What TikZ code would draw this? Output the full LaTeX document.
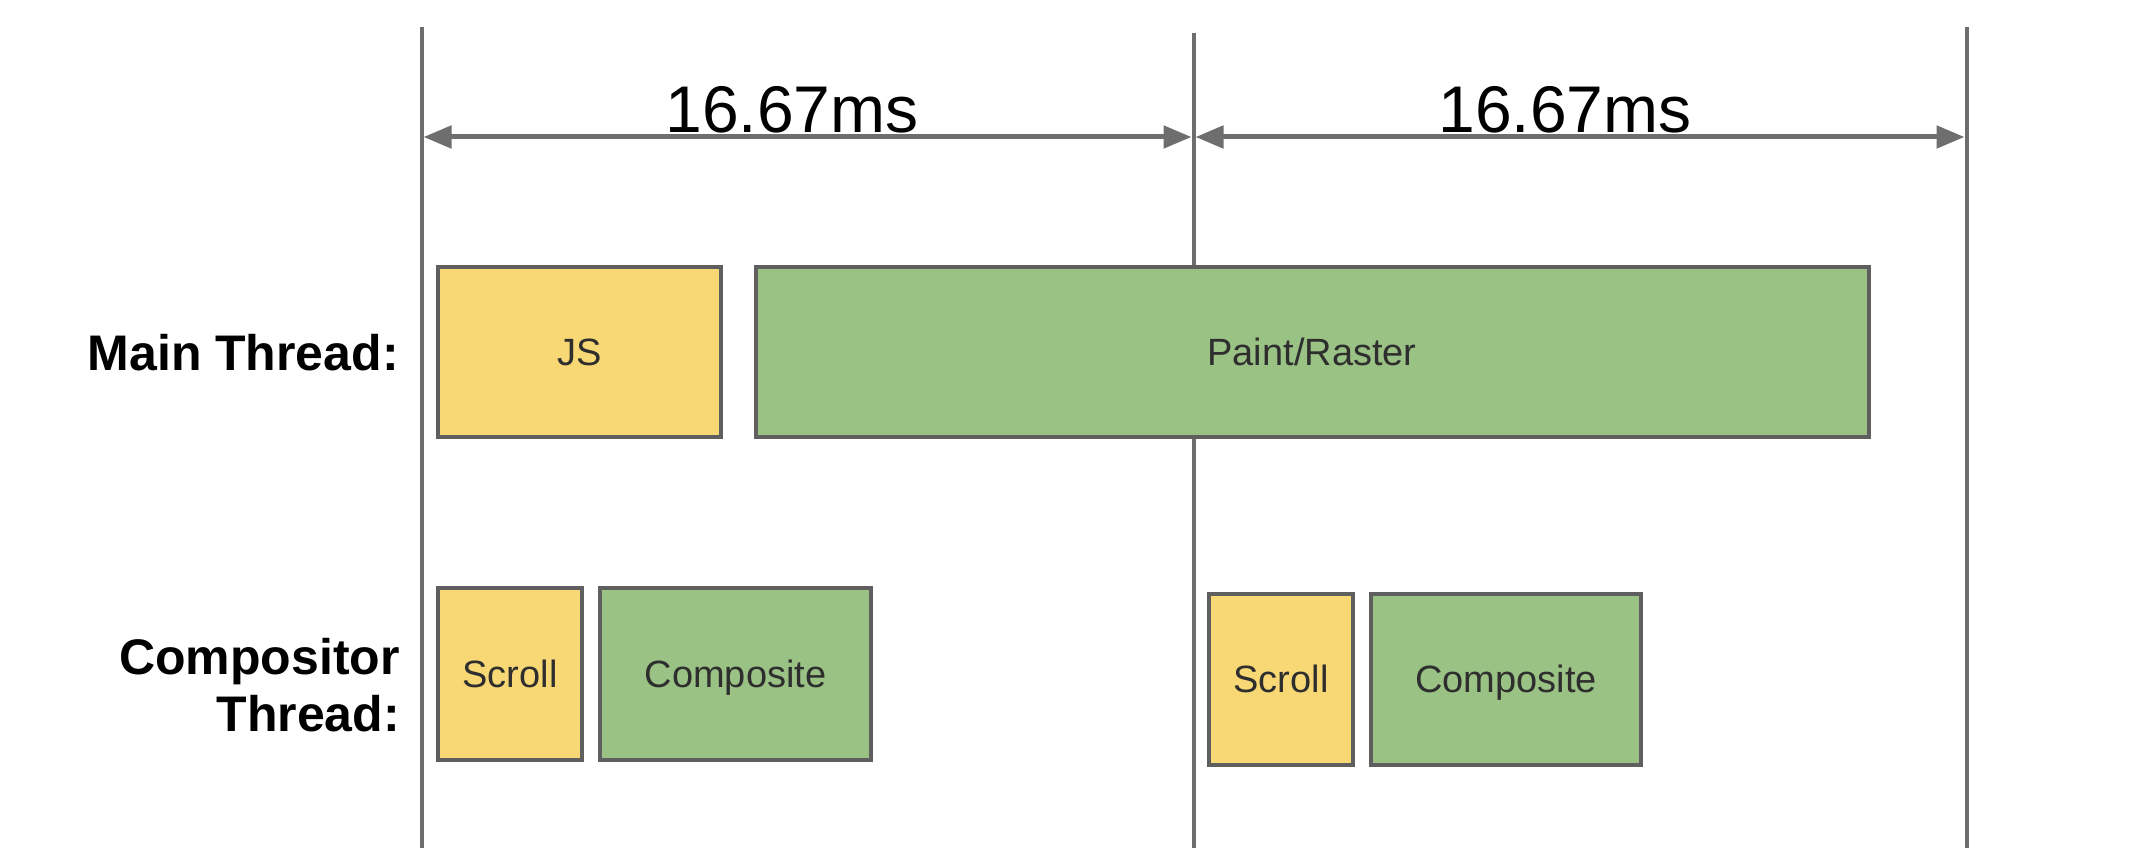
\documentclass[tikz,border=0pt]{standalone}
\usepackage{fontspec}
\setmainfont{Liberation Sans}
\usetikzlibrary{arrows.meta}
\definecolor{ylw}{HTML}{F8D775}
\definecolor{grn}{HTML}{9BC285}
\definecolor{edge}{HTML}{5F5F5F}
\definecolor{rule}{HTML}{6E6E6E}
\definecolor{ink}{HTML}{2E2E2E}
\tikzset{
  taskbox/.style={draw=edge, line width=4pt, inner sep=0pt, text=ink,
    text height=27pt, text depth=0pt,
    font=\fontsize{38}{40}\selectfont},
  ybox/.style={taskbox, fill=ylw},
  gbox/.style={taskbox, fill=grn},
  frameline/.style={draw=rule, line width=4pt},
  span/.style={draw=rule, line width=5pt, {Triangle[length=28pt,width=22pt]}-{Triangle[length=28pt,width=22pt]}},
  spanlabel/.style={anchor=base, inner sep=0pt, font=\fontsize{66}{66}\selectfont},
  rowlabel/.style={inner sep=0pt, align=right, font=\fontsize{50}{57}\selectfont\bfseries}
}
\begin{document}
\begin{tikzpicture}[x=1pt,y=-1pt]
\useasboundingbox (0,0) rectangle (2154,848);
% frame lines
\coordinate (t1) at (421.5,27);
\coordinate (b1) at (421.5,848);
\coordinate (t2) at (1193.5,33);
\coordinate (b2) at (1193.5,848);
\coordinate (t3) at (1966.5,27);
\coordinate (b3) at (1966.5,848);
\draw[frameline] (t1) -- (b1);
\draw[frameline] (t2) -- (b2);
\draw[frameline] (t3) -- (b3);
% span arrows
\coordinate (a1) at (423.5,137);
\coordinate (a2l) at (1191.5,137);
\coordinate (a2r) at (1195.5,137);
\coordinate (a3) at (1964.5,137);
\draw[span] (a1) -- (a2l);
\draw[span] (a2r) -- (a3);
\node[spanlabel] (s1) at (792,132) {16.67ms};
\node[spanlabel] (s2) at (1565,132) {16.67ms};
% main thread
\node[rowlabel, anchor=base east] (mainlbl) at (399,370) {Main Thread:};
\node[ybox, minimum width=283pt, minimum height=170pt] (js) at (579.5,351.7) {JS};
\node[gbox, minimum width=1113pt, minimum height=170pt] (paint) at (1312,351.7) {Paint/Raster};
% compositor thread
\node[rowlabel, anchor=east] (complbl) at (400,685) {Compositor\\Thread:};
\node[ybox, minimum width=144pt, minimum height=172pt] (scroll1) at (510,674) {Scroll};
\node[gbox, minimum width=271pt, minimum height=172pt] (comp1) at (735.5,674) {Composite};
\node[ybox, minimum width=144pt, minimum height=171pt] (scroll2) at (1281,679) {Scroll};
\node[gbox, minimum width=270pt, minimum height=171pt] (comp2) at (1506,679) {Composite};
\end{tikzpicture}
\end{document}
